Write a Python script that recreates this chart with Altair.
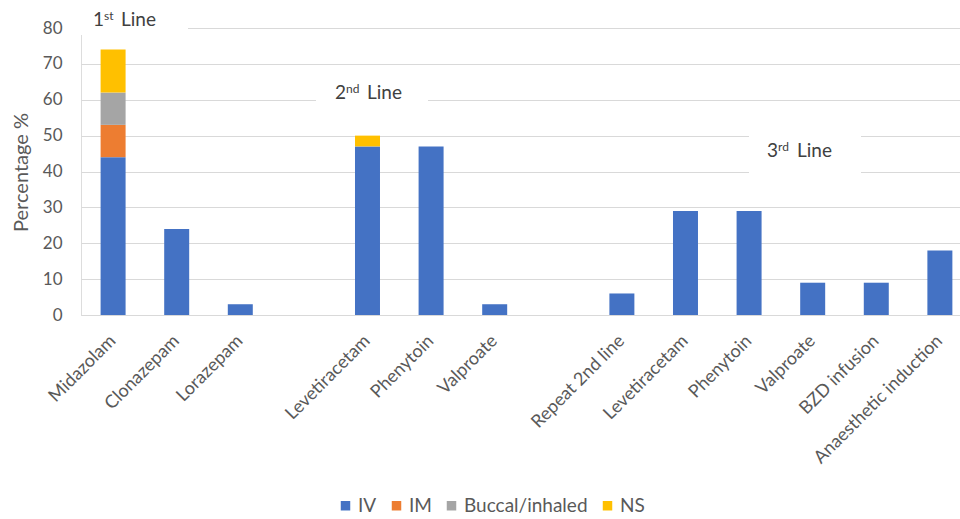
import altair as alt
import pandas as pd

# Slots (including two empty gap slots)
slot_labels = ["Midazolam", "Clonazepam", "Lorazepam", "",
               "Levetiracetam", "Phenytoin", "Valproate", "",
               "Repeat 2nd line", "Levetiracetam", "Phenytoin", "Valproate",
               "BZD infusion", "Anaesthetic induction"]
routes = ["IV", "IM", "Buccal/inhaled", "NS"]
route_colors = ["#4472C4", "#ED7D31", "#A5A5A5", "#FFC000"]

# values per route, per slot (None = no bar)
iv_vals = [44, 24, 3, None, 47, 47, 3, None, 6, 29, 29, 9, 9, 18]
im_vals = [9, None, None, None, None, None, None, None, None, None, None, None, None, None]
buccal_vals = [9, None, None, None, None, None, None, None, None, None, None, None, None, None]
ns_vals = [12, None, None, None, 3, None, None, None, None, None, None, None, None, None]

rows = []
for r_i, (route, vals) in enumerate(zip(routes, [iv_vals, im_vals, buccal_vals, ns_vals])):
    for s, v in enumerate(vals):
        if v is not None:
            rows.append({"slot": s, "route": route, "order": r_i, "value": v})
df = pd.DataFrame(rows)

OX, OY = 81, 28  # plot origin in page pixels
W, H = 879, 287

label_expr = "[" + ",".join("'" + l + "'" for l in slot_labels) + "][datum.value]"

bars = alt.Chart(df).mark_bar().encode(
    x=alt.X("slot:N",
            scale=alt.Scale(domain=list(range(len(slot_labels))),
                            paddingInner=0.607, paddingOuter=0.214, align=0.72),
            sort=None,
            axis=alt.Axis(title=None, labelExpr=label_expr, labelAngle=-45,
                          labelAlign="right", labelBaseline="middle",
                          labelPadding=23, labelFontSize=18, labelColor="#595959",
                          labelFont="Lato", domainColor="#D9D9D9", ticks=False,
                          grid=False, labelOverlap=False, labelBound=False,
                          labelLimit=300)),
    y=alt.Y("value:Q", stack="zero",
            scale=alt.Scale(domain=[0, 80], nice=False),
            axis=alt.Axis(values=[0, 10, 20, 30, 40, 50, 60, 70, 80],
                          title="Percentage %", titleFont="Lato", titleFontSize=20,
                          titleFontWeight="normal", titleColor="#595959",
                          titleX=21 - OX, titleY=172 - OY, titleAngle=-90,
                          titleAlign="center", titleBaseline="middle",
                          labelFont="Lato", labelFontSize=17, labelColor="#595959",
                          labelPadding=19, domain=False, ticks=False,
                          gridColor="#D9D9D9", gridWidth=1)),
    color=alt.Color("route:N",
                    scale=alt.Scale(domain=routes, range=route_colors),
                    legend=alt.Legend(title=None, orient="none", direction="horizontal",
                                      legendX=336 - OX, legendY=496 - OY,
                                      symbolType="square", symbolSize=90,
                                      symbolStrokeWidth=0, labelFont="Lato",
                                      labelFontSize=19, labelColor="#595959",
                                      columnPadding=10, labelOffset=3)),
    order=alt.Order("order:Q"),
)

# annotation boxes (white, hide gridlines) and superscript texts
boxes = [(OX, 188, 10, 35), (316, 428, 75, 125), (749, 861, 130, 175)]
ann_parts = [
    ("1", 93, 26, 19), ("st", 104, 20, 12), ("Line", 121, 26, 19),
    ("2", 335, 99, 19), ("nd", 346, 93, 12), ("Line", 367, 99, 19),
    ("3", 767, 157, 19), ("rd", 778, 151, 12), ("Line", 797, 157, 19),
]
one = pd.DataFrame({"a": [0]})
layers = [bars]
for x1, x2, y1, y2 in boxes:
    layers.append(alt.Chart(one).mark_rect(color="white").encode(
        x=alt.value(x1 - OX), x2=alt.value(x2 - OX),
        y=alt.value(y1 - OY), y2=alt.value(y2 - OY)))
for txt, px, py, fs in ann_parts:
    layers.append(alt.Chart(one).mark_text(
        text=txt, font="Lato", fontSize=fs, color="#404040",
        align="left", baseline="alphabetic").encode(
        x=alt.value(px - OX), y=alt.value(py - OY)))

chart = alt.layer(*layers).properties(
    width=W, height=H,
    autosize=alt.AutoSizeParams(type="none"),
    padding={"left": OX, "top": OY, "right": 960 - OX - W, "bottom": 519 - OY - H},
).configure_view(stroke=None).configure(background="white")

chart.save("out.html", embed_options={"renderer": "svg", "actions": False})
